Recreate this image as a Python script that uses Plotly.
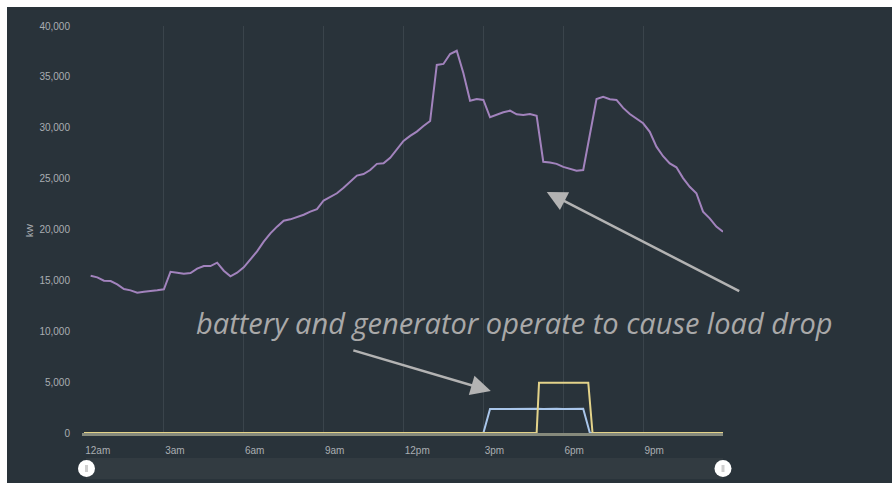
import plotly.graph_objects as go

# ---------------- data ----------------
load_hours = [i / 4 for i in range(1, 97)]
load_kw = [
    15460, 15300, 14970, 14940, 14610, 14150, 14020, 13790, 13890, 13920, 14020, 14120,
    15850, 15760, 15660, 15720, 16150, 16410, 16410, 16740, 15950, 15400, 15750, 16280,
    17070, 17850, 18800, 19620, 20280, 20870, 21000, 21200, 21450, 21750, 22000, 22850,
    23200, 23560, 24100, 24700, 25300, 25450, 25850, 26450, 26500, 27050, 27900, 28700,
    29200, 29620, 30170, 30660, 36170, 36270, 37250, 37570, 35350, 32660, 32830, 32730,
    31030, 31300, 31520, 31680, 31320, 31250, 31350, 31180, 26660, 26580, 26450, 26150,
    25950, 25780, 25850, 29340, 32830, 33050, 32800, 32730, 31950, 31350, 30850, 30440,
    29600, 28140, 27200, 26500, 26110, 25050, 24200, 23560, 21750, 21100, 20280, 19780,
]

battery_hours = [0, 15.0, 15.25, 15.5, 15.75, 16.0, 16.25, 16.5, 16.75, 17.0, 17.25,
                 17.5, 17.75, 18.0, 18.25, 18.5, 18.75, 19.0, 24]
battery_kw = [0, 0, 2350, 2360, 2390, 2360, 2400, 2370, 2360, 2390, 2370,
              2400, 2380, 2360, 2390, 2370, 2380, 0, 0]

generator_hours = [0, 17.0, 17.09, 17.5, 18.0, 18.5, 18.94, 19.1, 24]
generator_kw = [0, 0, 4950, 4960, 4940, 4950, 4950, 0, 0]

tick_hours = [0, 3, 6, 9, 12, 15, 18, 21, 24]
tick_labels = ["12am", "3am", "6am", "9am", "12pm", "3pm", "6pm", "9pm", ""]
y_ticks = [0, 5000, 10000, 15000, 20000, 25000, 30000, 35000, 40000]
y_labels = ["0", "5,000", "10,000", "15,000", "20,000", "25,000", "30,000", "35,000", "40,000"]

note_text = "battery and generator operate to cause load drop"

# ---------------- styling ----------------
W, H = 892, 483
ML, MR, MT, MB = 84, 169, 26, 50
PW, PH = W - ML - MR, H - MT - MB
BG = "#29333a"
GRID = "#3a444b"
TICKC = "#a9aeb2"
TICKFONT = "Liberation Sans, Arial, sans-serif"


def px(x):
    return (x - ML) / PW


def py(y):
    return (H - MB - y) / PH


fig = go.Figure()
fig.add_trace(go.Scatter(x=battery_hours, y=battery_kw, mode="lines",
                         line=dict(color="#a9c6ea", width=2), name="Battery"))
fig.add_trace(go.Scatter(x=generator_hours, y=generator_kw, mode="lines",
                         line=dict(color="#e3d38a", width=2), name="Generator"))
fig.add_trace(go.Scatter(x=load_hours, y=load_kw, mode="lines",
                         line=dict(color="#a283bd", width=2), name="Load"))

shapes = []
# white strips (top / left)
shapes.append(dict(type="rect", xref="paper", yref="paper", x0=px(0), x1=px(W),
                   y0=py(7), y1=py(0), fillcolor="white", line_width=0, layer="below"))
shapes.append(dict(type="rect", xref="paper", yref="paper", x0=px(0), x1=px(7),
                   y0=py(H), y1=py(0), fillcolor="white", line_width=0, layer="below"))
# slider track
shapes.append(dict(type="rect", xref="paper", yref="paper", x0=px(86), x1=px(723),
                   y0=py(479), y1=py(458), fillcolor="#323b41", line_width=0, layer="above"))
for cx in (86.5, 723):
    cy, r = 468.5, 8.5
    shapes.append(dict(type="circle", xref="paper", yref="paper",
                       x0=px(cx - r), x1=px(cx + r), y0=py(cy + r), y1=py(cy - r),
                       fillcolor="white", line_width=0, layer="above"))
    shapes.append(dict(type="rect", xref="paper", yref="paper",
                       x0=px(cx - 1.5), x1=px(cx + 1.5), y0=py(cy + 3.5), y1=py(cy - 3.5),
                       fillcolor="#cfcfcf", line_width=0, layer="above"))

annotations = [
    dict(text="kW", xref="paper", yref="paper", x=px(23), y=py(230), textangle=-90,
         showarrow=False, font=dict(family=TICKFONT, size=9, color=TICKC)),
    dict(text=note_text, xref="paper", yref="paper", x=px(514), y=py(322),
         xanchor="center", yanchor="middle", showarrow=False,
         font=dict(family="Open Sans", size=29, color="#a9a9a9", style="italic")),
    dict(text="", xref="x", yref="y", x=15.28, y=4130, ax=-139, ay=-41,
         showarrow=True, arrowhead=2, arrowsize=1.6, arrowwidth=2.5, arrowcolor="#b3b3b3"),
    dict(text="", xref="x", yref="y", x=17.38, y=23690, ax=194, ay=100,
         showarrow=True, arrowhead=2, arrowsize=1.6, arrowwidth=2.5, arrowcolor="#b3b3b3"),
]

fig.update_layout(
    width=W, height=H,
    margin=dict(l=ML, r=MR, t=MT, b=MB, pad=0),
    paper_bgcolor=BG, plot_bgcolor=BG,
    showlegend=False,
    shapes=shapes, annotations=annotations,
    xaxis=dict(range=[0, 24], tickmode="array", tickvals=tick_hours, ticktext=tick_labels,
               showgrid=True, gridcolor=GRID, gridwidth=1, zeroline=False,
               showline=True, linecolor="#868a7c", linewidth=2.5, layer="above traces",
               ticks="", ticklabelposition="outside right", ticklabelstandoff=6,
               tickfont=dict(family=TICKFONT, size=10, color=TICKC), fixedrange=True),
    yaxis=dict(range=[0, 40000], tickmode="array", tickvals=y_ticks, ticktext=y_labels,
               showgrid=False, zeroline=False, showline=True, linecolor=BG, linewidth=2,
               ticks="", ticklabelstandoff=10,
               tickfont=dict(family=TICKFONT, size=10, color=TICKC), fixedrange=True),
)

fig.write_html(
    "out.html", config={"displayModeBar": False},
    post_script=("document.body.style.margin='0';"
                 "document.body.style.background='%s';"
                 "document.documentElement.style.background='%s';" % (BG, BG)),
)
